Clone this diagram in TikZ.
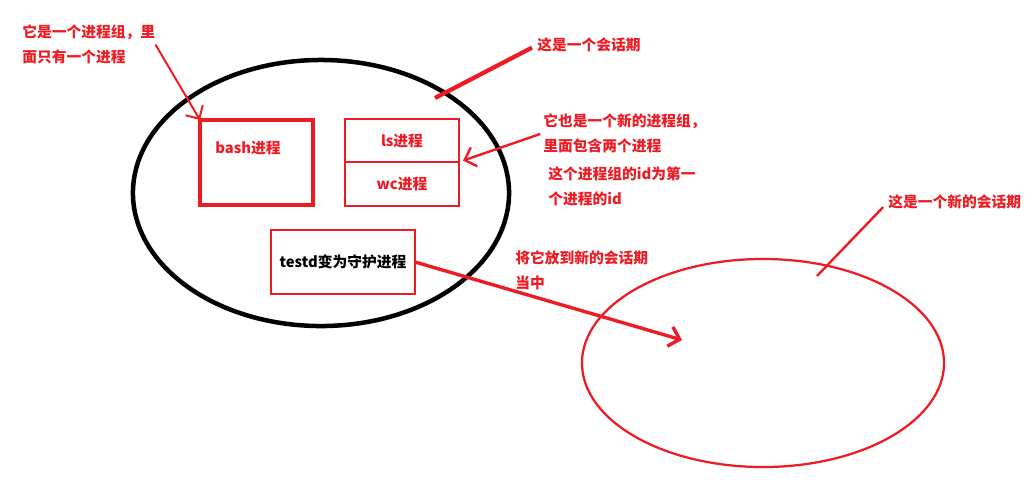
\documentclass[tikz,border=0pt]{standalone}
\usepackage{fontspec}
\newfontfamily\cjk{Noto Sans CJK SC}
\usetikzlibrary{arrows.meta}
\usetikzlibrary{positioning}
\usetikzlibrary{shapes.geometric}
\definecolor{paintred}{RGB}{237,28,36}
\tikzset{>={Straight Barb[length=2.5mm]}}

\begin{document}
\begin{tikzpicture}[
				x=0.025cm, y=-0.025cm,
				font=\cjk\bfseries\fontsize{10.5}{17.8}\selectfont,
				session/.style = {
					ellipse, draw
				},
				group/.style = {
					rectangle, draw=paintred,
					outer sep=0pt
				},
				note/.style = {
					text=paintred, align=left,
					anchor=west, inner sep=0pt
				},
				pointer/.style = {
					draw=paintred, line width=1.7pt
				}
			]
				\useasboundingbox (0,0) rectangle (1032,483);
				\node[session, line width=3.2pt, minimum width=9.4cm, minimum height=6.65cm] (sess) at (321,193) {};
				\node[session, draw=paintred, line width=1.6pt, minimum width=9.05cm, minimum height=5.2cm] (newsess) at (763,363) {};
				\node[group, line width=2.8pt, minimum width=2.825cm, minimum height=2.125cm] (bash) at (256.5,162.5) {};
				\node[text=paintred] (bashtext) at (248,148) {bash进程};
				\node[group, line width=1.8pt, text=paintred, minimum width=2.85cm, minimum height=1.075cm] (ls) at (402,140.5) {ls进程};
				\node[group, line width=1.8pt, text=paintred, minimum width=2.85cm, minimum height=1.1cm, below=0pt of ls] (wc) {wc进程};
				\node[group, line width=1.8pt, minimum width=3.6cm, minimum height=1.6cm] (testd) at (343,262) {testd变为守护进程};
				\node[note] (grpnote) at (22,44.5) {它是一个进程组，里\\面只有一个进程};
				\node[note] (sessnote) at (537,45) {这是一个会话期};
				\node[note] (lsnote) at (543,133) {它也是一个新的进程组，\\里面包含两个进程};
				\node[note] (idnote) at (548,186.5) {这个进程组的id为第一\\个进程的id};
				\node[note] (movenote) at (515,270) {将它放到新的会话期\\当中};
				\node[note] (newnote) at (888,202) {这是一个新的会话期};
				\coordinate (sessmark) at (435,98);
				\coordinate (moveend) at (682,340);
				\coordinate (newmark) at (817,276);
				\draw[pointer, ->, line width=1.4pt] (grpnote.east) -- (bash.north west);
				\draw[pointer, line width=3pt, shorten <=4pt] (sessnote.west) -- (sessmark);
				\draw[pointer, ->, shorten <=2pt, shorten >=3pt] (lsnote.west) -- (ls.south east);
				\draw[pointer, ->, line width=2.4pt] (testd.east) -- (moveend);
				\draw[pointer, shorten <=5pt] (newnote.west) -- (newmark);
			\end{tikzpicture}
\end{document}
